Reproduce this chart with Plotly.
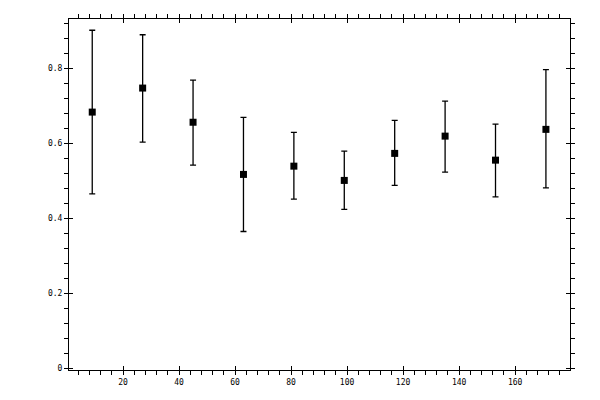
import plotly.graph_objects as go

x_vals = [9, 27, 45, 63, 81, 99, 117, 135, 153, 171]
y_vals = [0.683, 0.747, 0.656, 0.517, 0.539, 0.501, 0.573, 0.619, 0.555, 0.637]
y_upper = [0.901, 0.889, 0.768, 0.669, 0.629, 0.579, 0.661, 0.712, 0.651, 0.796]
y_lower = [0.465, 0.603, 0.542, 0.365, 0.451, 0.424, 0.488, 0.523, 0.457, 0.481]

err_plus = [u - y for u, y in zip(y_upper, y_vals)]
err_minus = [y - l for l, y in zip(y_lower, y_vals)]

x_ticks = [20, 40, 60, 80, 100, 120, 140, 160]
y_ticks = [0, 0.2, 0.4, 0.6, 0.8]
y_labels = ["0", "0.2", "0.4", "0.6", "0.8"]

x_range = [0.7, 179.6]
y_range = [-0.004, 0.931]
font = dict(family="DejaVu Sans Mono", size=8, color="black")

fig = go.Figure()
fig.add_trace(go.Scatter(
    x=x_vals, y=y_vals, mode="markers",
    marker=dict(symbol="square", size=7, color="black"),
    error_y=dict(type="data", symmetric=False, array=err_plus, arrayminus=err_minus,
                 color="black", thickness=1.3, width=3),
    showlegend=False,
))

common = dict(showgrid=False, zeroline=False, tickcolor="black", tickwidth=1,
              automargin=False)

fig.update_layout(
    width=600, height=400,
    margin=dict(l=69, r=30, t=19, b=30, pad=0),
    paper_bgcolor="white", plot_bgcolor="white",
    font=font,
    xaxis=dict(range=x_range, tickvals=x_ticks,
               ticks="outside", ticklen=4, showline=True, mirror="ticks",
               linecolor="black", linewidth=1,
               minor=dict(ticks="outside", ticklen=4, dtick=4, tick0=0, tickcolor="black"),
               tickfont=font, **common),
    yaxis=dict(range=y_range, tickvals=y_ticks, ticktext=y_labels,
               ticks="outside", ticklen=4, showline=True, mirror="ticks",
               linecolor="black", linewidth=1,
               minor=dict(ticks="outside", ticklen=4, dtick=0.04, tick0=0, tickcolor="black"),
               tickfont=font, **common),
    xaxis2=dict(range=x_range, overlaying="x", matches="x", tickvals=x_ticks,
                ticks="inside", ticklen=4, showline=False, mirror="ticks",
                showticklabels=False, **common),
    yaxis2=dict(range=y_range, overlaying="y", matches="y", tickvals=y_ticks,
                ticks="inside", ticklen=4, showline=False, mirror="ticks",
                showticklabels=False, **common),
)

fig.add_trace(go.Scatter(x=[x_vals[0]], y=[y_vals[0]], xaxis="x2", yaxis="y2",
                         mode="markers", marker=dict(opacity=0), showlegend=False,
                         hoverinfo="skip"))

fig.write_html("out.html",
               config={"displayModeBar": False, "staticPlot": True},
               post_script="document.body.style.margin='0';document.body.style.overflow='hidden';")
